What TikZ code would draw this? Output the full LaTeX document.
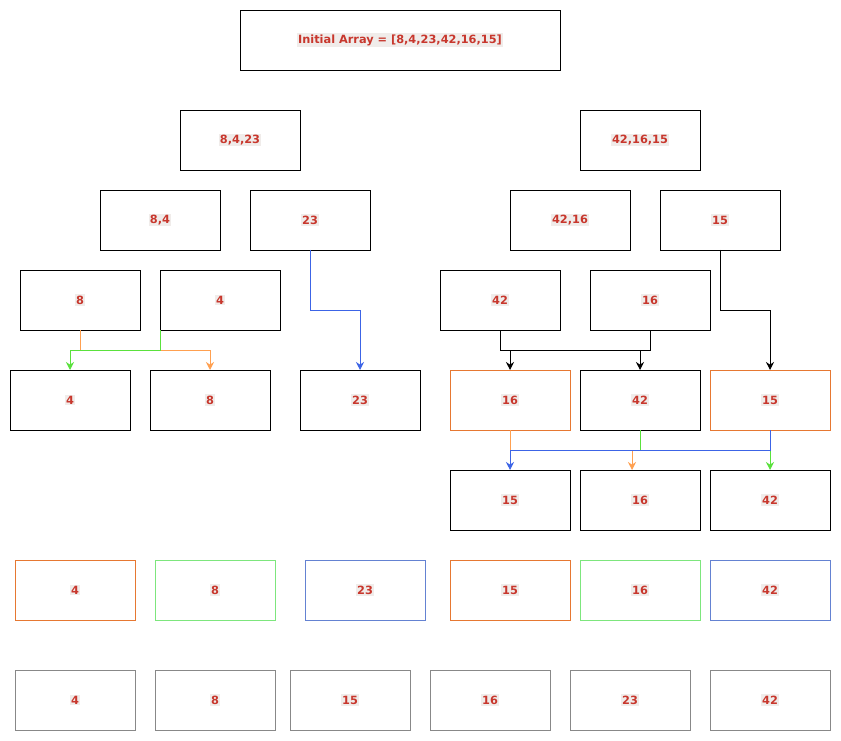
\documentclass[tikz,border=0pt]{standalone}
\usepackage{fontspec}
\setmainfont{DejaVu Sans}
\usepackage{tikz}
\usetikzlibrary{arrows.meta}
\definecolor{numred}{RGB}{200,55,45}
\definecolor{hlgray}{RGB}{240,236,234}
\definecolor{boxorange}{RGB}{230,120,50}
\definecolor{arrorange}{RGB}{255,160,80}
\definecolor{boxgreen}{RGB}{125,230,125}
\definecolor{arrgreen}{RGB}{90,225,60}
\definecolor{boxblue}{RGB}{100,130,210}
\definecolor{arrblue}{RGB}{60,100,230}
\definecolor{boxgray}{RGB}{136,136,136}
\setlength{\fboxsep}{1pt}
\newcommand{\cellval}[1]{\colorbox{hlgray}{\textcolor{numred}{\bfseries #1}}}

\begin{document}
\begin{tikzpicture}[x=0.75pt,y=-0.75pt,line width=0.7pt,
    font=\fontsize{8.5}{10}\selectfont,
    box/.style={draw,fill=white,minimum width=90pt,minimum height=45pt,inner sep=0pt,outer sep=0pt},
    obox/.style={box,draw=boxorange},
    gbox/.style={box,draw=boxgreen},
    bbox/.style={box,draw=boxblue},
    greybox/.style={box,draw=boxgray},
    link/.style={-{Stealth[length=6pt,width=6pt,inset=2pt]}}]
    \fill[white] (0,0) rectangle (841,741);
    \useasboundingbox (0,0) rectangle (841,741);
    % splitting
    \node[box,minimum width=240pt] (init) at (400,40) {\cellval{Initial Array = [8,4,23,42,16,15]}};
    \node[box] (left) at (240,140) {\cellval{8,4,23}};
    \node[box] (right) at (640,140) {\cellval{42,16,15}};
    \node[box] (a84) at (160,220) {\cellval{8,4}};
    \node[box] (a23) at (310,220) {\cellval{23}};
    \node[box] (a4216) at (570,220) {\cellval{42,16}};
    \node[box] (a15) at (720,220) {\cellval{15}};
    \node[box] (s8) at (80,300) {\cellval{8}};
    \node[box] (s4) at (220,300) {\cellval{4}};
    \node[box] (s42) at (500,300) {\cellval{42}};
    \node[box] (s16) at (650,300) {\cellval{16}};
    % merging
    \node[box] (m4) at (70,400) {\cellval{4}};
    \node[box] (m8) at (210,400) {\cellval{8}};
    \node[box] (m23) at (360,400) {\cellval{23}};
    \node[obox] (m16) at (510,400) {\cellval{16}};
    \node[box] (m42) at (640,400) {\cellval{42}};
    \node[obox] (m15) at (770,400) {\cellval{15}};
    \node[box] (n15) at (510,500) {\cellval{15}};
    \node[box] (n16) at (640,500) {\cellval{16}};
    \node[box] (n42) at (770,500) {\cellval{42}};
    \node[obox] (h4) at (75,590) {\cellval{4}};
    \node[gbox] (h8) at (215,590) {\cellval{8}};
    \node[bbox] (h23) at (365,590) {\cellval{23}};
    \node[obox] (h15) at (510,590) {\cellval{15}};
    \node[gbox] (h16) at (640,590) {\cellval{16}};
    \node[bbox] (h42) at (770,590) {\cellval{42}};
    \foreach \x/\v in {75/4, 215/8, 350/15, 490/16, 630/23, 770/42}
        \node[greybox] (f\v) at (\x,700) {\cellval{\v}};
    % connectors
    \draw[link,arrorange] (s8.south) -- ++(0,20) -| (m8.north);
    \draw[link,arrgreen] (s4.south west) -- ++(0,20) -| (m4.north);
    \draw[link,arrblue] (a23.south) -- ++(0,60) -| (m23.north);
    \draw[link] (s42.south) -- ++(0,20) -| (m42.north);
    \draw[link] (s16.south) -- ++(0,20) -| (m16.north);
    \draw[link] (a15.south) -- ++(0,60) -| (m15.north);
    \draw[link,arrorange] (m16.south) -- ++(0,20) -| ([xshift=-6pt]n16.north);
    \draw[link,arrgreen] (m42.south) -- ++(0,20) -| (n42.north);
    \draw[link,arrblue] (m15.south) -- ++(0,20) -| (n15.north);
\end{tikzpicture}
\end{document}
